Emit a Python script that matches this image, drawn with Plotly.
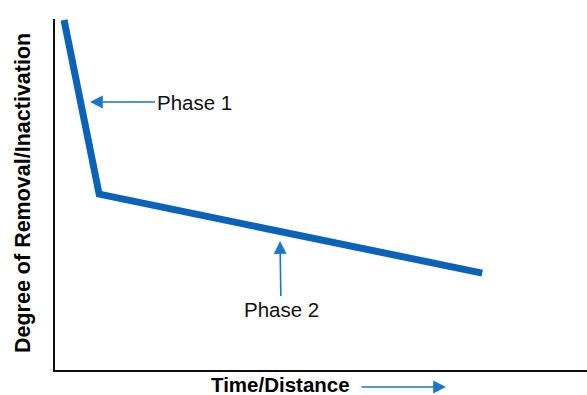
import plotly.graph_objects as go

# Data (arbitrary units, 0-100 on both axes)
time_distance = [1.7, 8.3, 80.3]
removal = [99.7, 50.1, 27.6]

phase_labels = ["Phase 1", "Phase 2"]
x_title = "Time/Distance"
y_title = "Degree of Removal/Inactivation"

LINE_COLOR = "#0b62b8"
ARROW_COLOR = "#1a76c8"
FONT = "Liberation Sans, Arial, sans-serif"

PLOT_L, PLOT_T, PLOT_B = 55, 19, 370
PLOT_W = 587 - PLOT_L
PLOT_H = PLOT_B - PLOT_T


def px(xp):
    return (xp - PLOT_L) / PLOT_W


def py(yp):
    return (PLOT_B - yp) / PLOT_H


fig = go.Figure()
fig.add_trace(go.Scatter(
    x=time_distance, y=removal, mode="lines",
    line=dict(color=LINE_COLOR, width=7),
    hoverinfo="skip", showlegend=False,
))

annotations = [
    dict(x=6.58, y=76.35, xref="x", yref="y", text=phase_labels[0],
         showarrow=True, ax=104, ay=0, arrowhead=2, arrowsize=1.6,
         arrowwidth=1.6, arrowcolor=ARROW_COLOR, standoff=0,
         font=dict(family=FONT, size=20.5, color="#111111")),
    dict(x=42.3, y=36.75, xref="x", yref="y", text=phase_labels[1],
         showarrow=True, ax=1, ay=68, arrowhead=2, arrowsize=1.6,
         arrowwidth=1.6, arrowcolor=ARROW_COLOR, standoff=0,
         font=dict(family=FONT, size=20.5, color="#111111")),
    dict(x=px(280), y=py(384), xref="paper", yref="paper",
         xanchor="center", yanchor="middle",
         text="<b>" + x_title + "</b>", showarrow=False,
         font=dict(family=FONT, size=20.5, color="#000000")),
    dict(x=px(446), y=py(387), xref="paper", yref="paper",
         text=" ", showarrow=True, ax=-86, ay=0, arrowhead=2, arrowsize=1.6,
         arrowwidth=1.6, arrowcolor=ARROW_COLOR, standoff=0,
         font=dict(size=1)),
    dict(x=px(23), y=py(193), xref="paper", yref="paper",
         xanchor="center", yanchor="middle",
         text="<b>" + y_title + "</b>", showarrow=False, textangle=-90,
         font=dict(family=FONT, size=21.5, color="#000000")),
]

fig.update_layout(
    width=587, height=395,
    margin=dict(l=PLOT_L, r=0, t=PLOT_T, b=395 - PLOT_B, pad=0),
    paper_bgcolor="white", plot_bgcolor="white",
    xaxis=dict(range=[0, 100], showline=True, linecolor="#111111", linewidth=2,
               showgrid=False, zeroline=False, showticklabels=False, ticks=""),
    yaxis=dict(range=[0, 100], showline=True, linecolor="#111111", linewidth=2,
               showgrid=False, zeroline=False, showticklabels=False, ticks=""),
    annotations=annotations,
)

fig.write_html(
    "out.html",
    config={"displayModeBar": False},
    post_script="document.body.style.margin='0';document.body.style.overflow='hidden';",
)
